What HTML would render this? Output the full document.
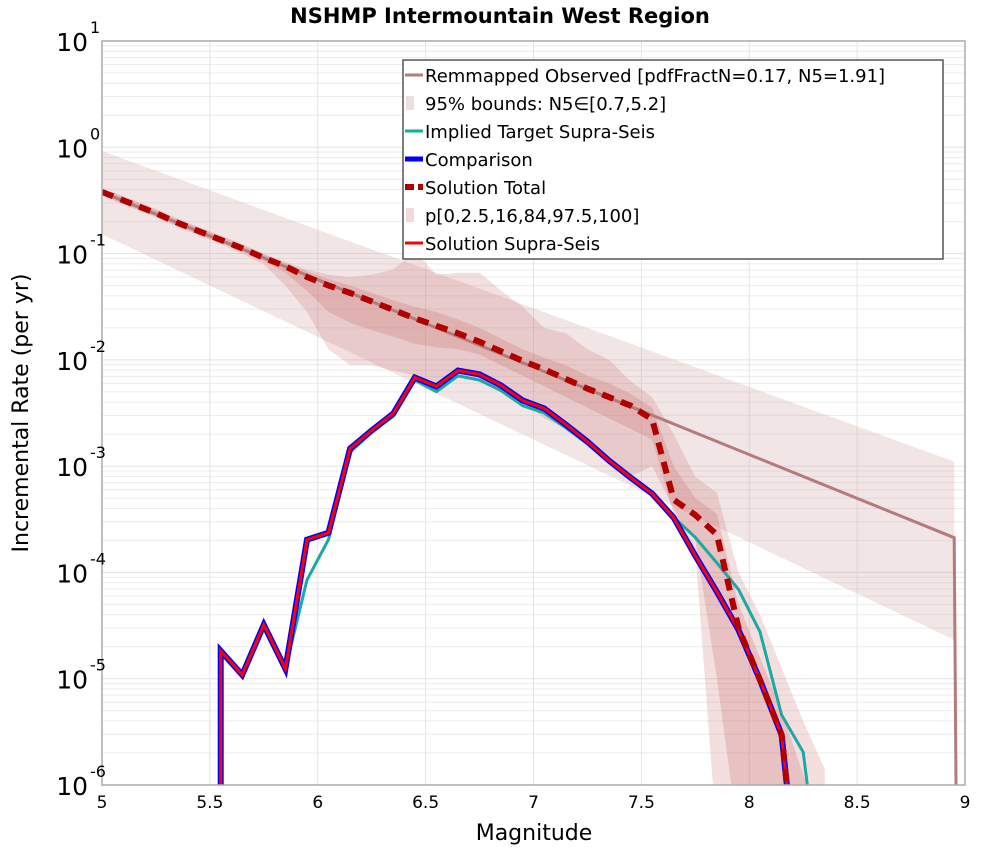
<!DOCTYPE html>
<html><head><meta charset="utf-8"><style>
body{margin:0;background:#fff;}
svg text{font-family:"DejaVu Sans","Liberation Sans",sans-serif;}
</style></head><body>
<svg id="chart" width="1000" height="850" xmlns="http://www.w3.org/2000/svg"></svg>
<script>
const bins=[5.05,5.15,5.25,5.35,5.45,5.55,5.65,5.75,5.85,5.95,6.05,6.15,6.25,6.35,6.45,6.55,6.65,6.75,6.85,6.95,7.05,7.15,7.25,7.35,7.45,7.55,7.65,7.75,7.85,7.95,8.05,8.15,8.25,8.35];
// log10 values
const obsMag=[5.0,8.95,8.96];
const obsLog=[-0.423,-3.673,-6.5];
const obsBandMag=[5.0,8.95];
const obsBandUpper=[-0.036,-2.957];
const obsBandLower=[-0.818,-4.634];
const supraMag=[5.55,5.55,5.65,5.75,5.85,5.95,6.05,6.15,6.25,6.35,6.45,6.55,6.65,6.75,6.85,6.95,7.05,7.15,7.25,7.35,7.45,7.55,7.65,7.75,7.85,7.95,8.05,8.15,8.2];
const supraLog=[-6.5,-4.738,-4.964,-4.493,-4.907,-3.692,-3.626,-2.835,-2.665,-2.505,-2.166,-2.250,-2.100,-2.137,-2.241,-2.382,-2.458,-2.609,-2.769,-2.948,-3.108,-3.259,-3.485,-3.843,-4.183,-4.541,-5.012,-5.529,-6.5];
const targetMag=[5.85,5.95,6.05,6.15,6.25,6.35,6.45,6.55,6.65,6.75,6.85,6.95,7.05,7.15,7.25,7.35,7.45,7.55,7.65,7.75,7.85,7.95,8.05,8.15,8.25,8.3];
const targetLog=[-4.907,-4.07,-3.69,-2.87,-2.68,-2.53,-2.19,-2.30,-2.15,-2.19,-2.29,-2.43,-2.50,-2.64,-2.79,-2.96,-3.11,-3.26,-3.48,-3.67,-3.91,-4.16,-4.56,-5.34,-5.69,-6.5];
const totalMag=[5.0,5.05,5.15,5.25,5.35,5.45,5.55,5.65,5.75,5.85,5.95,6.05,6.15,6.25,6.35,6.45,6.55,6.65,6.75,6.85,6.95,7.05,7.15,7.25,7.35,7.45,7.55,7.65,7.75,7.85,7.95,8.05,8.15,8.2];
const totalLog=[-0.42,-0.46,-0.54,-0.62,-0.71,-0.79,-0.87,-0.95,-1.04,-1.12,-1.22,-1.30,-1.37,-1.45,-1.53,-1.61,-1.68,-1.75,-1.83,-1.92,-2.01,-2.09,-2.18,-2.27,-2.35,-2.43,-2.56,-3.315,-3.46,-3.645,-4.52,-5.012,-5.529,-6.5];
const outerUpper=[-0.42,-0.50,-0.58,-0.67,-0.75,-0.83,-0.91,-1.00,-1.08,-1.15,-1.20,-1.22,-1.20,-1.15,-0.98,-1.20,-1.18,-1.18,-1.35,-1.50,-1.70,-1.75,-1.90,-2.00,-2.20,-2.35,-2.70,-3.10,-3.25,-4.00,-4.40,-4.90,-5.40,-5.85];
const outerLower=[-0.50,-0.58,-0.66,-0.75,-0.83,-0.91,-1.00,-1.10,-1.30,-1.55,-1.90,-2.05,-2.05,-2.10,-2.15,-2.30,-2.10,-2.20,-2.30,-2.40,-2.55,-2.65,-2.80,-2.95,-3.10,-3.00,-3.40,-3.80,-6.5,-6.5,-6.5,-6.5,-6.5,-6.5];
const innerUpper=[-0.43,-0.51,-0.59,-0.68,-0.76,-0.84,-0.92,-1.01,-1.09,-1.17,-1.24,-1.30,-1.37,-1.44,-1.50,-1.55,-1.62,-1.70,-1.80,-1.90,-1.98,-2.05,-2.15,-2.22,-2.32,-2.45,-3.00,-3.30,-3.45,-4.30,-4.80,-5.30,-5.90,-6.5];
const innerLower=[-0.49,-0.57,-0.65,-0.74,-0.82,-0.90,-0.98,-1.07,-1.18,-1.35,-1.55,-1.65,-1.72,-1.78,-1.85,-1.88,-1.90,-1.95,-2.05,-2.15,-2.25,-2.35,-2.45,-2.55,-2.65,-2.75,-3.45,-3.70,-5.0,-6.5,-6.5,-6.5,-6.5,-6.5];
const xTicks=[5,5.5,6,6.5,7,7.5,8,8.5,9];
const yTicks=[1,0,-1,-2,-3,-4,-5,-6];

const L=102,R=965,T=41,B=785;
const X=m=>L+(m-5)/4*(R-L);
const Y=l=>T+(1-l)/7*(B-T);
const NS="http://www.w3.org/2000/svg";
const svg=document.getElementById('chart');
function el(t,a,p){const e=document.createElementNS(NS,t);for(const k in a)e.setAttribute(k,a[k]);(p||svg).appendChild(e);return e;}
const defs=el('defs',{});const cp=el('clipPath',{id:'clip'},defs);el('rect',{x:L,y:T,width:R-L,height:B-T},cp);

const grid=el('g',{});
for(let d=-6;d<1;d++)for(let k=1;k<10;k++){const y=Y(d+Math.log10(k));el('line',{x1:L,x2:R,y1:y,y2:y,stroke:k==1?'#e2e2e2':'#ececec','stroke-width':1},grid);}
xTicks.forEach(m=>{el('line',{x1:X(m),x2:X(m),y1:T,y2:B,stroke:'#e4e4e4'},grid);});

const plot=el('g',{'clip-path':'url(#clip)'});
function line(ms,ls,attrs,name){const d=ms.map((m,i)=>(i?'L':'M')+X(m).toFixed(1)+','+Y(ls[i]).toFixed(1)).join('');const p=el('path',Object.assign({d,fill:'none'},attrs),plot);return p;}
function band(ms,up,lo,fill,name){let d='';ms.forEach((m,i)=>d+=(i?'L':'M')+X(m).toFixed(1)+','+Y(up[i]).toFixed(1));for(let i=ms.length-1;i>=0;i--)d+='L'+X(ms[i]).toFixed(1)+','+Y(lo[i]).toFixed(1);d+='Z';const p=el('path',{d,fill},plot);}
band(obsBandMag,obsBandUpper,obsBandLower,'rgba(200,150,150,0.25)','observed-95-band');
band(bins,outerUpper,outerLower,'rgba(205,110,110,0.22)','solution-outer-band');
band(bins,innerUpper,innerLower,'rgba(190,90,90,0.22)','solution-inner-band');
line(obsMag,obsLog,{stroke:'#b57a7a','stroke-width':3},'observed-line');
line(targetMag,targetLog,{stroke:'#1aa9a5','stroke-width':3},'target-supra-line');
line(supraMag,supraLog,{stroke:'#0000ff','stroke-width':6},'comparison-line');
line(supraMag,supraLog,{stroke:'#ff0000','stroke-width':3},'solution-supra-line');
line(totalMag,totalLog,{stroke:'#b00000','stroke-width':6,'stroke-dasharray':'12,8'},'solution-total-line');

el('rect',{x:L,y:T,width:R-L,height:B-T,fill:'none',stroke:'#aaa','stroke-width':1.5});
const xt=el('g',{});
xTicks.forEach(m=>{const t=el('text',{x:X(m),y:808,'font-size':17,'text-anchor':'middle',fill:'#000'},xt);t.textContent=String(m);});
const yt=el('g',{});
yTicks.forEach(l=>{const t=el('text',{x:88,y:Y(l)+10,'font-size':25,'text-anchor':'end',fill:'#000'},yt);t.textContent='10';const s=el('text',{x:90,y:Y(l)-8,'font-size':16,fill:'#000'},yt);s.textContent=String(l);});
let t=el('text',{x:500,y:23,'font-size':21,'font-weight':'bold','text-anchor':'middle'});t.textContent='NSHMP Intermountain West Region';
t=el('text',{x:534,y:840,'font-size':22,'text-anchor':'middle'});t.textContent='Magnitude';
t=el('text',{x:28,y:413,'font-size':22,'text-anchor':'middle',transform:'rotate(-90 28 413)'});t.textContent='Incremental Rate (per yr)';

const lg=el('g',{});
el('rect',{x:403,y:60,width:540,height:199,fill:'#fff',stroke:'#555','stroke-width':1.5},lg);
const items=[['Remmapped Observed [pdfFractN=0.17, N5=1.91]','line','#b57a7a',3],['95% bounds: N5∈[0.7,5.2]','box','rgba(200,150,150,0.3)'],['Implied Target Supra-Seis','line','#1aa9a5',3],['Comparison','line','#0000ff',5],['Solution Total','dash','#b00000',6],['p[0,2.5,16,84,97.5,100]','box','rgba(220,150,150,0.35)'],['Solution Supra-Seis','line','#ff0000',3]];
items.forEach((it,i)=>{const y=75+i*28;const g=el('g',{},lg);
if(it[1]=='box')el('rect',{x:406,y:y-7,width:8,height:14,fill:it[2]},g);
else el('line',{x1:405,x2:423,y1:y,y2:y,stroke:it[2],'stroke-width':it[3],'stroke-dasharray':it[1]=='dash'?'9,4':'none'},g);
const tx=el('text',{x:425,y:y+7,'font-size':18,fill:'#000'},g);tx.textContent=it[0];});
</script>
</body></html>
